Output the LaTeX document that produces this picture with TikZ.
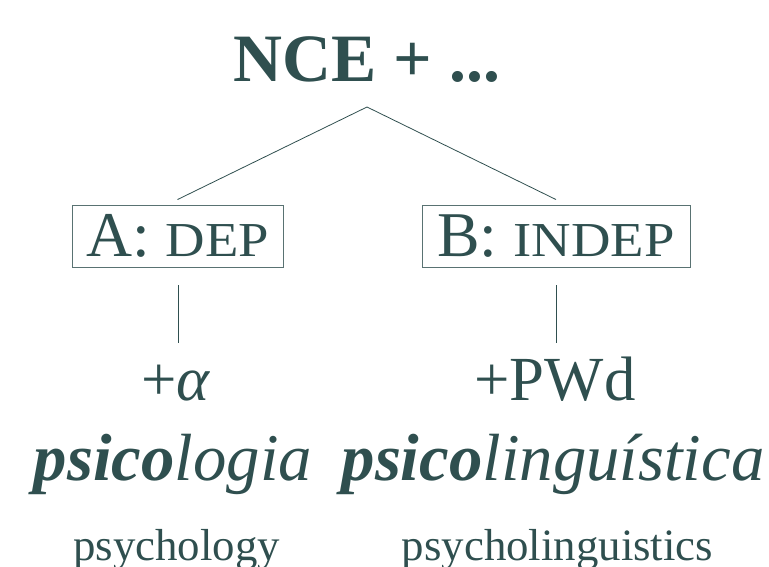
\documentclass[tikz,border=0pt]{standalone}
\usepackage{fontspec}
\setmainfont{Liberation Serif}
\newfontfamily\scfont[FakeStretch=1.12]{Liberation Serif}
\definecolor{slate}{HTML}{2F4F4F}
\begin{document}
\begin{tikzpicture}[x=1bp,y=-1bp,
  txt/.style={text=slate,inner sep=0pt,anchor=base},
  conn/.style={draw=slate,line width=0.8bp},
  catbox/.style={draw=slate!80,line width=0.9bp,text=slate,inner sep=0pt,minimum height=62bp}]
\useasboundingbox (0,0) rectangle (769,567);
\node[txt,font=\fontsize{68}{68}\selectfont\bfseries] (top) at (367,82) {NCE + ...};
\coordinate (apex) at (367,107);
\node[catbox,minimum width=211bp] (A) at (177.5,236) {\fontsize{64}{64}\selectfont A: {\scfont\fontsize{49}{49}\selectfont DEP}};
\node[catbox,minimum width=268bp] (B) at (556,236) {\fontsize{64}{64}\selectfont B: {\scfont\fontsize{49}{49}\selectfont INDEP}};
\draw[conn] (apex) -- ([yshift=5bp]A.north);
\draw[conn] (apex) -- ([yshift=5bp]B.north);
\node[txt,font=\fontsize{63}{63}\selectfont] (alpha) at (176,400) {+\textit{α}};
\node[txt,font=\fontsize{63}{63}\selectfont] (pwd) at (555,400) {+PWd};
\coordinate (la1) at (178,285); \coordinate (la2) at (178,343);
\coordinate (lb1) at (556,285); \coordinate (lb2) at (556,343);
\draw[conn] (la1) -- (la2);
\draw[conn] (lb1) -- (lb2);
\node[txt,font=\fontsize{67}{67}\selectfont\itshape] (w1) at (173,480) {\textbf{psico}logia};
\node[txt,font=\fontsize{67}{67}\selectfont\itshape] (w2) at (553,480) {\textbf{psico}linguística};
\node[txt,font=\fontsize{45}{45}\selectfont] (g1) at (176.5,560) {psychology};
\node[txt,font=\fontsize{45}{45}\selectfont] (g2) at (557.5,560) {psycholinguistics};
\end{tikzpicture}
\end{document}
